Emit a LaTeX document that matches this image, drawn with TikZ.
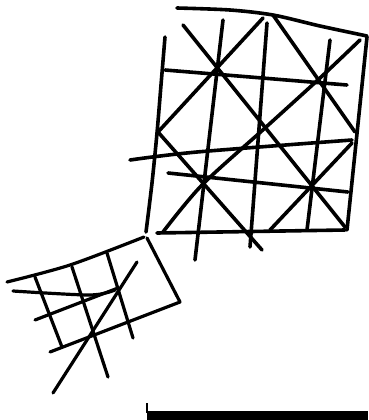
\documentclass[tikz,border=0pt]{standalone}
\usepackage{tikz}

\begin{document}
\begin{tikzpicture}[
  x=1pt, y=-1pt,
  pen/.style={draw, line width=3.6pt, line cap=round, line join=round},
  smallpen/.style={draw, line width=3.2pt, line cap=round, line join=round},
  bar/.style={draw, line width=8.5pt}]

  \useasboundingbox (0,0) rectangle (368,420);

  % ---- large grid ---------------------------------------------------------
  \draw[pen] plot[smooth] coordinates {(177,8) (230,10) (273,15) (320,26) (367,36)};
  \draw[pen] (367,37) -- (347,230);
  \draw[pen] plot[smooth] coordinates {(165,37) (161,85) (157,133) (152,183) (146,232)};

  % rows
  \draw[pen] (165,70) -- (347,85);
  \draw[pen] plot[smooth] coordinates {(130,160) (197,152) (352,140)};
  \draw[pen] (168,173) -- (348,192);
  \draw[pen] (157,233) -- (345,230);

  % columns
  \draw[pen] (223,20) -- (195,260);
  \draw[pen] (267,23) -- (250,247);
  \draw[pen] (330,40) -- (307,230);

  % diagonals
  \draw[pen] (183,25) -- (345,227);
  \draw[pen] (263,18) -- (158,132);
  \draw[pen] (273,15) -- (355,132);
  \draw[pen] plot[smooth] coordinates {(360,40) (320,78) (265,128) (202,185) (163,232)};
  \draw[pen] (158,132) -- (262,250);
  \draw[pen] (352,143) -- (270,230);

  % ---- small grid ---------------------------------------------------------
  \draw[smallpen] plot[smooth] coordinates {(7,282) (70,265) (144,237)};
  \draw[smallpen] (147,238) -- (180,302) -- (50,352);

  \draw[smallpen] (35,277) -- (62,347);
  \draw[smallpen] (72,267) -- (108,377);
  \draw[smallpen] (107,253) -- (133,338);

  \draw[smallpen] plot[smooth] coordinates {(13,291) (90,295) (115,290)};
  \draw[smallpen] (35,320) -- (118,288);
  \draw[smallpen] (137,262) -- (53,393);

  % ---- base bar -----------------------------------------------------------
  \draw[line width=2.2pt] (147,403) -- (147,413);
  \draw[bar] (147,415.5) -- (368,415.5);
\end{tikzpicture}
\end{document}
